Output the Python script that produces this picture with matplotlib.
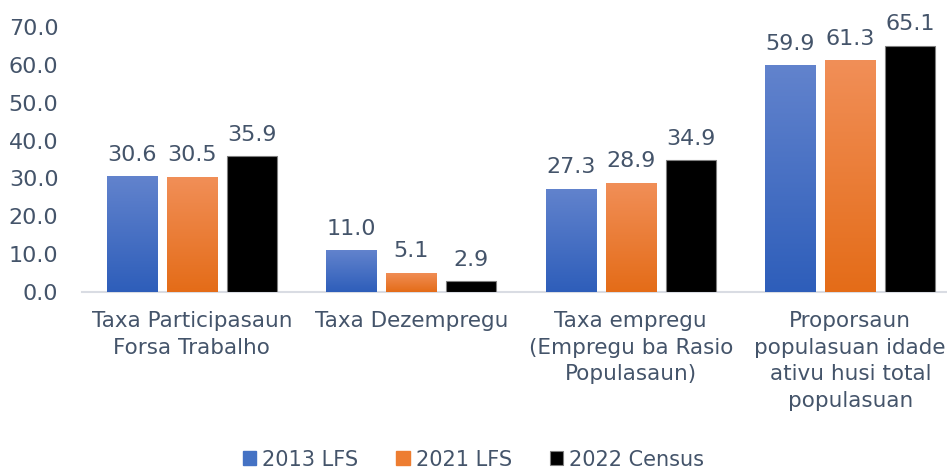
import numpy as np
import matplotlib
matplotlib.use("Agg")
import matplotlib.pyplot as plt
from matplotlib.colors import LinearSegmentedColormap

# data
categories = ["Taxa Participasaun\nForsa Trabalho",
              "Taxa Dezempregu",
              "Taxa empregu\n(Empregu ba Rasio\nPopulasaun)",
              "Proporsaun\npopulasuan idade\nativu husi total\npopulasuan"]
series_names = ["2013 LFS", "2021 LFS", "2022 Census"]
lfs_2013 = [30.6, 11.0, 27.3, 59.9]
lfs_2021 = [30.5, 5.1, 28.9, 61.3]
census_2022 = [35.9, 2.9, 34.9, 65.1]
yticks = [0, 10, 20, 30, 40, 50, 60, 70]

txt = "#44546A"
plt.rcParams['font.family'] = ['DejaVu Sans']

fig = plt.figure(figsize=(9.47, 4.72), dpi=100)
ax = fig.add_axes([82 / 947, 180 / 472, 878 / 947, 265 / 472])

x = np.arange(len(categories))
w = 0.228
off = 0.274

# gradient colours (top, bottom)
grads = [("#6283CD", "#2E5EBA"), ("#F18F58", "#E46C18"), None]
series = [lfs_2013, lfs_2021, census_2022]

for i, (vals, g) in enumerate(zip(series, grads)):
    pos = x + (i - 1) * off
    if g is None:
        bars = ax.bar(pos, vals, w, color="black", edgecolor="#7f7f7f",
                      linewidth=0.8, label=series_names[i], zorder=3)
    else:
        bars = ax.bar(pos, vals, w, color=g[1], label=series_names[i], zorder=3)
        cmap = LinearSegmentedColormap.from_list("g%d" % i, [g[1], g[0]])
        for b in bars:
            bx, by = b.get_x(), b.get_y()
            bw, bh = b.get_width(), b.get_height()
            grad = np.linspace(0, 1, 256).reshape(-1, 1)
            im = ax.imshow(grad, cmap=cmap, aspect="auto", origin="lower",
                           extent=[bx, bx + bw, by, by + bh], zorder=3.5)
            im.set_clip_path(b)
    for p, v in zip(pos, vals):
        ax.text(p, v + 3.0, "%.1f" % v, ha="center", va="bottom",
                fontsize=16, color=txt, clip_on=False)

ax.set_xlim(-0.5, 3.5)
ax.set_ylim(0, 70)
ax.set_yticks(yticks)
ax.set_yticklabels(["%.1f" % t for t in yticks], fontsize=16, color=txt)
ax.set_xticks(x)
ax.set_xticklabels(categories, fontsize=15.5, color=txt, linespacing=1.4, va="top")
ax.tick_params(axis="y", length=0, pad=17)
ax.tick_params(axis="x", length=0, pad=14)
for s in ["top", "right", "left"]:
    ax.spines[s].set_visible(False)
ax.spines["bottom"].set_color("#D9DCE3")
ax.spines["bottom"].set_linewidth(1.5)

leg = fig.legend(loc="center", bbox_to_anchor=(0.5, 0.026), ncol=3,
                 frameon=False, fontsize=15, handlelength=0.65, handleheight=0.65,
                 handletextpad=0.3, columnspacing=1.8, borderpad=0.1)
for t in leg.get_texts():
    t.set_color(txt)
leg.legend_handles[0].set_color("#4472C4")
leg.legend_handles[1].set_color("#ED7D31")

fig.savefig("out.png", dpi=100)
